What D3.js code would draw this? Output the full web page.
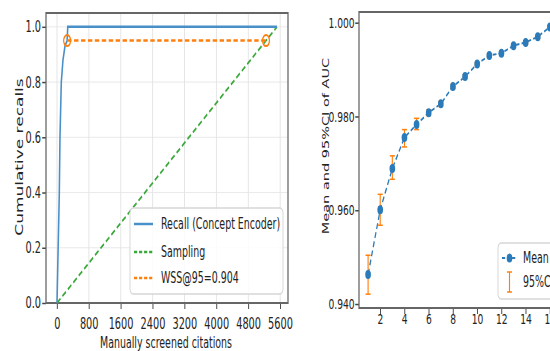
<!DOCTYPE html>
<html>
<head>
<meta charset="utf-8">
<script src="https://cdn.jsdelivr.net/npm/d3@7"></script>
<style>
  body { margin: 0; background: #fff; }
  svg { display: block; font-family: "DejaVu Sans", sans-serif; }
</style>
</head>
<body>
<div id="chart"></div>
<script>
// left panel data
var screened = [0, 58, 75, 108, 150, 200, 254, 270, 5520];
var recall = [0, 0.4, 0.6, 0.8, 0.88, 0.93, 0.95, 1.0, 1.0];
var samplingX = [0, 5520];
var samplingY = [0, 1.0];
var wssX = [254, 5244];
var wssY = [0.95, 0.95];
var xTicksLeft = [0, 800, 1600, 2400, 3200, 4000, 4800, 5600];
var yTicksLeft = [0.0, 0.2, 0.4, 0.6, 0.8, 1.0];

// right panel data
var rounds = [1, 2, 3, 4, 5, 6, 7, 8, 9, 10, 11, 12, 13, 14, 15, 16];
var aucMean = [0.9463, 0.9601, 0.9689, 0.9755, 0.9783, 0.9808, 0.9827, 0.9864,
               0.9885, 0.9912, 0.9930, 0.9935, 0.9951, 0.9958, 0.9970, 0.9991];
var aucLow = [0.9421, 0.9568, 0.9666, 0.9735, 0.9772, 0.9802, 0.9822, 0.9860,
              0.9881, 0.9909, 0.9927, 0.9932, 0.9948, 0.9955, 0.9967, 0.9988];
var aucHigh = [0.9504, 0.9634, 0.9716, 0.9772, 0.9796, 0.9814, 0.9832, 0.9868,
               0.9889, 0.9915, 0.9933, 0.9938, 0.9954, 0.9961, 0.9973, 0.9994];
var xTicksRight = [2, 4, 6, 8, 10, 12, 14, 16];
var yTicksRight = [0.940, 0.960, 0.980, 1.000];

// the picture is squeezed horizontally, so draw wide and scale down
var S = 0.63;
function ux(px) { return px / S; }

var svg = d3.select("#chart").append("svg")
    .attr("width", 550)
    .attr("height", 351);
var g = svg.append("g").attr("transform", "scale(" + S + ",1)");

var blue = "#4a90c8", green = "#3aa83a", orange = "#ff7f0e", spine = "#666";

// ---------- left panel ----------
var x1 = d3.scaleLinear().domain([-276, 5796]).range([ux(46), ux(288)]);
var y1 = d3.scaleLinear().domain([0, 1.05]).range([303, 13]);
var left = g.append("g");

// grid
left.selectAll(".gx").data(xTicksLeft).enter().append("line")
    .attr("x1", function(d){return x1(d);}).attr("x2", function(d){return x1(d);})
    .attr("y1", y1(0)).attr("y2", y1(1.05))
    .attr("stroke", "#e4e4e4").attr("stroke-width", 1.5);
left.selectAll(".gy").data(yTicksLeft).enter().append("line")
    .attr("x1", x1(-276)).attr("x2", x1(5796))
    .attr("y1", function(d){return y1(d);}).attr("y2", function(d){return y1(d);})
    .attr("stroke", "#e4e4e4").attr("stroke-width", 1);

var axL = left.append("g").attr("transform", "translate(0," + y1(0) + ")")
    .call(d3.axisBottom(x1).tickValues(xTicksLeft).tickFormat(d3.format("d"))
      .tickSize(6).tickPadding(9));
var ayL = left.append("g").attr("transform", "translate(" + x1(-276) + ",0)")
    .call(d3.axisLeft(y1).tickValues(yTicksLeft).tickFormat(d3.format(".1f"))
      .tickSize(6).tickPadding(2));
[axL, ayL].forEach(function(a) {
  a.select(".domain").remove();
  a.selectAll(".tick line").attr("stroke", "#444").attr("stroke-width", 1.5);
  a.selectAll(".tick text").attr("fill", "#222").attr("font-size", 15.5)
      .attr("font-family", "DejaVu Sans");
});

left.append("rect")
    .attr("x", x1(-276)).attr("y", y1(1.05))
    .attr("width", x1(5796) - x1(-276)).attr("height", y1(0) - y1(1.05))
    .attr("fill", "none").attr("stroke", spine).attr("stroke-width", 2);

var line1 = d3.line().x(function(d){return x1(d[0]);}).y(function(d){return y1(d[1]);});

left.append("path")
    .datum(d3.zip(samplingX, samplingY))
    .attr("d", line1).attr("fill", "none")
    .attr("stroke", green).attr("stroke-width", 2.2).attr("stroke-dasharray", "7,4");
left.append("path")
    .datum(d3.zip(screened, recall))
    .attr("d", line1).attr("fill", "none")
    .attr("stroke", blue).attr("stroke-width", 2.5);
left.append("path")
    .datum(d3.zip(wssX, wssY))
    .attr("d", line1).attr("fill", "none")
    .attr("stroke", orange).attr("stroke-width", 2.5).attr("stroke-dasharray", "7,4");
left.selectAll(".wss").data(d3.zip(wssX, wssY)).enter().append("circle")
    .attr("cx", function(d){return x1(d[0]);}).attr("cy", function(d){return y1(d[1]);})
    .attr("r", 5.5).attr("fill", "none").attr("stroke", orange).attr("stroke-width", 2);

left.append("text")
    .attr("x", ux(166)).attr("y", 348)
    .attr("text-anchor", "middle").attr("font-size", 15).attr("fill", "#222")
    .text("Manually screened citations");
left.append("text")
    .attr("transform", "translate(" + ux(23) + ",157) rotate(-90)")
    .attr("text-anchor", "middle").attr("font-size", 17).attr("fill", "#222")
    .text("Cumulative recalls");

// legend
var legL = left.append("g");
legL.append("rect")
    .attr("x", ux(130)).attr("y", 208).attr("width", ux(283) - ux(130)).attr("height", 86)
    .attr("rx", 5).attr("fill", "#fff").attr("fill-opacity", 0.85)
    .attr("stroke", "#d6d6d6").attr("stroke-width", 1.5);
var legItems = [
  {label: "Recall (Concept Encoder)", color: blue, dash: null, y: 224},
  {label: "Sampling", color: green, dash: "5,3", y: 252},
  {label: "WSS@95=0.904", color: orange, dash: "5,3", y: 278}
];
legItems.forEach(function(d) {
  legL.append("line")
      .attr("x1", ux(134)).attr("x2", ux(153)).attr("y1", d.y).attr("y2", d.y)
      .attr("stroke", d.color).attr("stroke-width", 2.5)
      .attr("stroke-dasharray", d.dash);
  legL.append("text")
      .attr("x", ux(161)).attr("y", d.y + 5)
      .attr("font-size", 15).attr("fill", "#222")
      .text(d.label);
});

// ---------- right panel ----------
var x2 = d3.scaleLinear().domain([0.25, 16.75]).range([ux(359), ux(559)]);
var y2 = d3.scaleLinear().domain([0.93915, 1.00228]).range([308, 12]);
var right = g.append("g");

var axR = right.append("g").attr("transform", "translate(0," + y2(0.93915) + ")")
    .call(d3.axisBottom(x2).tickValues(xTicksRight).tickSize(6).tickPadding(0));
var ayR = right.append("g").attr("transform", "translate(" + x2(0.25) + ",0)")
    .call(d3.axisLeft(y2).tickValues(yTicksRight).tickFormat(d3.format(".3f"))
      .tickSize(6).tickPadding(1));
[axR, ayR].forEach(function(a) {
  a.select(".domain").remove();
  a.selectAll(".tick line").attr("stroke", "#444").attr("stroke-width", 1.5);
  a.selectAll(".tick text").attr("fill", "#222").attr("font-size", 14.5)
      .attr("font-family", "DejaVu Sans");
});

right.append("rect")
    .attr("x", x2(0.25)).attr("y", y2(1.00228))
    .attr("width", x2(16.75) - x2(0.25)).attr("height", y2(0.93915) - y2(1.00228))
    .attr("fill", "none").attr("stroke", spine).attr("stroke-width", 2);

right.append("text")
    .attr("transform", "translate(" + ux(329) + ",146) rotate(-90)")
    .attr("text-anchor", "middle").attr("font-size", 14.5).attr("fill", "#222")
    .text("Mean and 95%CI of AUC");

var pts = rounds.map(function(r, i) {
  return {x: r, m: aucMean[i], lo: aucLow[i], hi: aucHigh[i]};
});

right.append("path")
    .datum(pts)
    .attr("d", d3.line().x(function(d){return x2(d.x);}).y(function(d){return y2(d.m);}))
    .attr("fill", "none").attr("stroke", "#2b7bba").attr("stroke-width", 2)
    .attr("stroke-dasharray", "6,3.5");

var eb = right.selectAll(".eb").data(pts).enter().append("g");
eb.append("line")
    .attr("x1", function(d){return x2(d.x);}).attr("x2", function(d){return x2(d.x);})
    .attr("y1", function(d){return y2(d.lo);}).attr("y2", function(d){return y2(d.hi);})
    .attr("stroke", orange).attr("stroke-width", 1.8);
eb.selectAll(".cap").data(function(d){return [[d.x, d.lo], [d.x, d.hi]];}).enter().append("line")
    .attr("x1", function(d){return x2(d[0]) - 4;}).attr("x2", function(d){return x2(d[0]) + 4;})
    .attr("y1", function(d){return y2(d[1]);}).attr("y2", function(d){return y2(d[1]);})
    .attr("stroke", orange).attr("stroke-width", 1.5);

right.selectAll(".pt").data(pts).enter().append("circle")
    .attr("cx", function(d){return x2(d.x);}).attr("cy", function(d){return y2(d.m);})
    .attr("r", 4.5).attr("fill", "#2b7bba");

var legR = right.append("g");
legR.append("rect")
    .attr("x", ux(498)).attr("y", 243).attr("width", ux(640) - ux(498)).attr("height", 56)
    .attr("rx", 5).attr("fill", "#fff").attr("fill-opacity", 0.85)
    .attr("stroke", "#d6d6d6").attr("stroke-width", 1.5);
legR.append("line")
    .attr("x1", ux(502)).attr("x2", ux(517)).attr("y1", 258).attr("y2", 258)
    .attr("stroke", "#2b7bba").attr("stroke-width", 2).attr("stroke-dasharray", "5,3");
legR.append("circle")
    .attr("cx", ux(509.5)).attr("cy", 258).attr("r", 4.5).attr("fill", "#2b7bba");
legR.append("line")
    .attr("x1", ux(509.5)).attr("x2", ux(509.5)).attr("y1", 272).attr("y2", 292)
    .attr("stroke", orange).attr("stroke-width", 1.8);
[272, 292].forEach(function(yy) {
  legR.append("line")
      .attr("x1", ux(509.5) - 4).attr("x2", ux(509.5) + 4).attr("y1", yy).attr("y2", yy)
      .attr("stroke", orange).attr("stroke-width", 1.5);
});
legR.append("text").attr("x", ux(523)).attr("y", 263)
    .attr("font-size", 15).attr("fill", "#222").text("Mean");
legR.append("text").attr("x", ux(523)).attr("y", 287)
    .attr("font-size", 15).attr("fill", "#222").text("95%CI");
</script>
</body>
</html>
